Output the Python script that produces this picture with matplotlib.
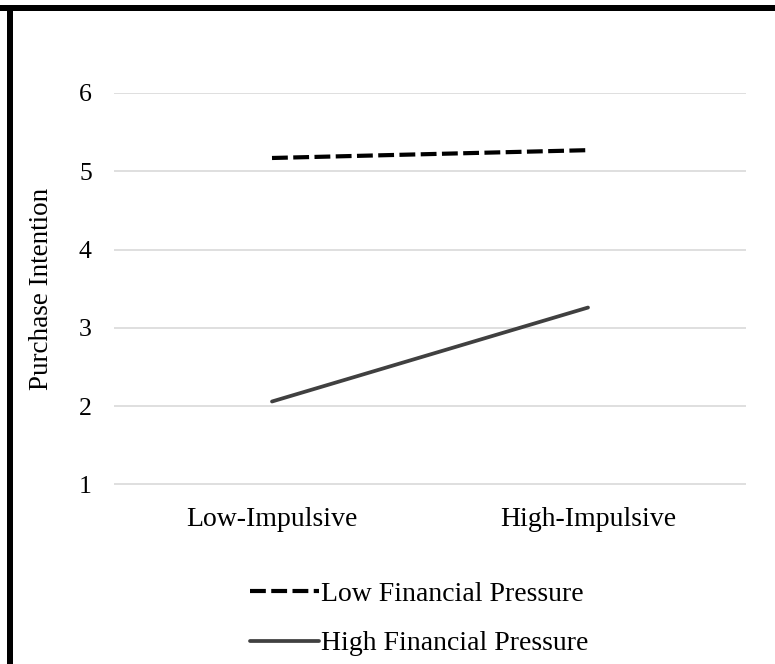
import matplotlib
matplotlib.use("Agg")
import matplotlib.pyplot as plt
from matplotlib.patches import Rectangle

# data
categories = ["Low-Impulsive", "High-Impulsive"]
low_pressure = [5.17, 5.27]
high_pressure = [2.06, 3.26]
series_names = ["Low Financial Pressure", "High Financial Pressure"]
y_ticks = [1, 2, 3, 4, 5, 6]

plt.rcParams['font.family'] = ['Liberation Serif', 'DejaVu Serif']

W, H = 775, 664
fig = plt.figure(figsize=(W / 100, H / 100), dpi=100)
fig.patch.set_facecolor("white")

# plot area in pixels
left, right, top, bottom = 114, 746, 93, 484.5
ax = fig.add_axes([left / W, 1 - bottom / H, (right - left) / W, (bottom - top) / H])

x = list(range(len(categories)))
ax.plot(x, low_pressure, color="black", lw=3.0, dashes=(3.8, 1.3),
        solid_capstyle="butt", dash_capstyle="butt", label=series_names[0])
ax.plot(x, high_pressure, color="#404040", lw=2.7, solid_capstyle="round",
        label=series_names[1])

ax.set_xlim(-0.5, 1.5)
ax.set_ylim(1, 6)
ax.set_yticks(y_ticks)
ax.set_xticks(x)
ax.set_xticklabels(categories, fontsize=20)
ax.tick_params(axis="y", length=0, pad=16, labelsize=18.5)
ax.tick_params(axis="x", length=0, pad=16)
ax.grid(axis="y", color="#d9d9d9", lw=1.2)
ax.set_axisbelow(True)
for s in ["top", "right", "left", "bottom"]:
    ax.spines[s].set_visible(False)

fig.text(42 / W, 1 - 289 / H, "Purchase Intention", rotation=90,
         ha="center", va="center", fontsize=19.5)

# legend below the plot
fig.legend(loc="center left", bbox_to_anchor=(250 / W, 1 - 619 / H),
           frameon=False, fontsize=20, handlelength=2.5, handletextpad=0.05,
           labelspacing=0.85, borderpad=0, borderaxespad=0)

# black frame on top and left edges
fig.add_artist(Rectangle((0, 1 - 10.7 / H), 1, 5.7 / H, transform=fig.transFigure,
                         color="black", lw=0))
fig.add_artist(Rectangle((7.3 / W, 0), 6 / W, 1 - 5 / H, transform=fig.transFigure,
                         color="black", lw=0))

fig.savefig("out.png", dpi=100)
